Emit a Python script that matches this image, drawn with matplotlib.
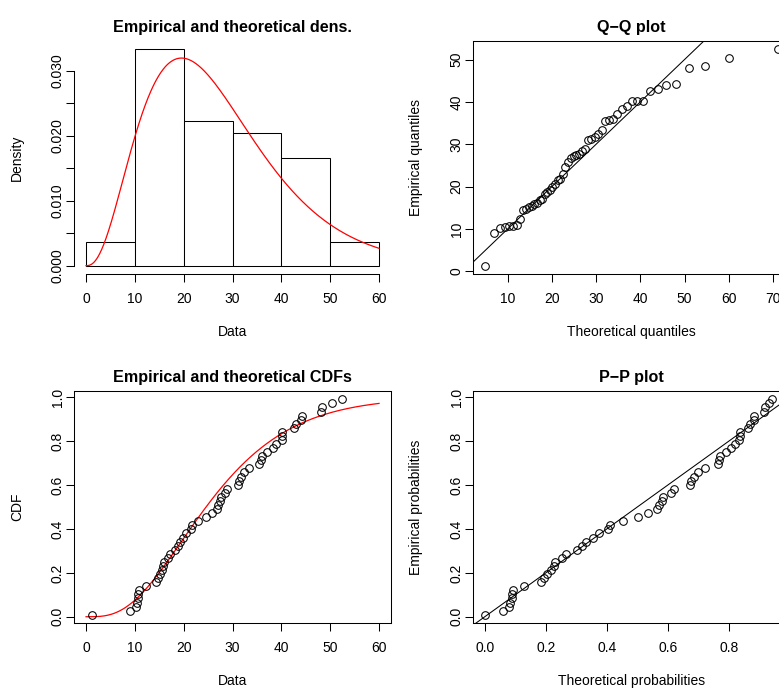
import math
import numpy as np
import matplotlib
matplotlib.use("Agg")
import matplotlib.pyplot as plt

# Daten, n = 54
daten = [1.3, 9.1, 10.2, 10.4, 10.6, 10.7, 10.8, 12.3,
         14.4, 14.7, 15.1, 15.5, 15.8, 16.0, 16.7, 17.1,
         18.3, 18.8, 19.2, 19.9, 20.5, 21.5, 21.7, 23.0,
         24.6, 25.8, 26.8, 27.1, 27.4, 27.6, 28.5, 28.9,
         31.1, 31.3, 31.7, 32.3, 33.3, 35.5, 35.8, 36.0,
         37.1, 38.2, 39.0, 40.1, 40.2, 40.2, 42.5, 43.0,
         44.1, 44.3, 48.1, 48.4, 50.4, 52.4]
klassen = [0, 10, 20, 30, 40, 50, 60]
# angepasste Gamma-Verteilung
shape = 3.62
rate = 0.134

plt.rcParams["font.family"] = ["Liberation Sans", "DejaVu Sans"]
plt.rcParams["font.size"] = 10

x = np.sort(np.array(daten))
n = len(x)
pp = (np.arange(1, n + 1) - 0.5) / n


def dgamma(t):
    t = np.asarray(t, dtype=float)
    out = np.zeros_like(t)
    m = t > 0
    out[m] = np.exp((shape - 1) * np.log(t[m]) - rate * t[m]
                    + shape * math.log(rate) - math.lgamma(shape))
    return out


grid = np.linspace(0, 300, 60001)
dg = dgamma(grid)
cg = np.concatenate([[0.0], np.cumsum((dg[1:] + dg[:-1]) / 2 * np.diff(grid))])


def pgamma(t):
    return np.interp(t, grid, cg)


def qgamma(p):
    return np.interp(p, cg, grid)


def ext(lo, hi):
    d = (hi - lo) * 0.04
    return lo - d, hi + d


def stil(ax):
    ax.tick_params(direction="out", length=6, width=0.75, labelsize=10)
    ax.tick_params(axis="x", pad=7)
    ax.tick_params(axis="y", labelrotation=90, pad=1)
    for lab in ax.get_yticklabels():
        lab.set_va("center")
    for s in ax.spines.values():
        s.set_linewidth(0.75)


kreis = dict(marker="o", ls="none", mfc="none", mec="black", ms=5.5, mew=0.75)

fig = plt.figure(figsize=(7.79, 6.88), dpi=100)
ax1 = fig.add_axes([0.0954, 0.6013, 0.4062, 0.3395])
ax2 = fig.add_axes([0.6076, 0.6013, 0.4062, 0.3395])
ax3 = fig.add_axes([0.0954, 0.0940, 0.4062, 0.3381])
ax4 = fig.add_axes([0.6076, 0.0940, 0.4062, 0.3381])

# Histogramm + Dichte
h, _, _ = ax1.hist(daten, bins=klassen, density=True, facecolor="white",
                   edgecolor="black", linewidth=0.75)
t = np.linspace(0, 60, 600)
ax1.plot(t, dgamma(t), color="red", lw=0.9)
ytop = max(h.max(), dgamma(t).max())
ax1.set_xlim(ext(0, 60))
ax1.set_ylim(ext(0, ytop))
ax1.spines["top"].set_visible(False)
ax1.spines["right"].set_visible(False)
ax1.spines["left"].set_bounds(0, 0.03)
ax1.spines["bottom"].set_bounds(0, 60)
ax1.set_xticks(klassen)
ax1.set_yticks([0, 0.005, 0.01, 0.015, 0.02, 0.025, 0.03])
ax1.set_yticklabels(["0.000", "", "0.010", "", "0.020", "", "0.030"])
ax1.set_title("Empirical and theoretical dens.", fontsize=11.6, fontweight="bold")
ax1.set_xlabel("Data", va="center")
ax1.set_ylabel("Density", va="center")
stil(ax1)

# Q-Q
xq = qgamma(pp)
ax2.plot(xq, x, **kreis)
ax2.axline((0, 0), slope=1, color="black", lw=0.75)
ax2.set_xlim(ext(xq.min(), xq.max()))
ax2.set_ylim(ext(x.min(), x.max()))
ax2.set_xticks([10, 20, 30, 40, 50, 60, 70])
ax2.set_yticks([0, 10, 20, 30, 40, 50])
ax2.set_title("Q\u2212Q plot", fontsize=11.6, fontweight="bold")
ax2.set_xlabel("Theoretical quantiles", va="center")
ax2.set_ylabel("Empirical quantiles", va="center")
stil(ax2)

# CDF
ax3.plot(t, pgamma(t), color="red", lw=0.9)
ax3.plot(x, pp, **kreis)
ax3.set_xlim(ext(0, 60))
ax3.set_ylim(ext(pp.min(), pp.max()))
ax3.set_xticks(klassen)
ax3.set_yticks([0, 0.2, 0.4, 0.6, 0.8, 1.0])
ax3.set_yticklabels(["0.0", "0.2", "0.4", "0.6", "0.8", "1.0"])
ax3.set_title("Empirical and theoretical CDFs", fontsize=11.6, fontweight="bold")
ax3.set_xlabel("Data", va="center")
ax3.set_ylabel("CDF", va="center")
stil(ax3)

# P-P
xp = pgamma(x)
ax4.plot(xp, pp, **kreis)
ax4.axline((0, 0), slope=1, color="black", lw=0.75)
ax4.set_xlim(ext(xp.min(), xp.max()))
ax4.set_ylim(ext(pp.min(), pp.max()))
ax4.set_xticks([0, 0.2, 0.4, 0.6, 0.8, 1.0])
ax4.set_xticklabels(["0.0", "0.2", "0.4", "0.6", "0.8", "1.0"])
ax4.set_yticks([0, 0.2, 0.4, 0.6, 0.8, 1.0])
ax4.set_yticklabels(["0.0", "0.2", "0.4", "0.6", "0.8", "1.0"])
ax4.set_title("P\u2212P plot", fontsize=11.6, fontweight="bold")
ax4.set_xlabel("Theoretical probabilities", va="center")
ax4.set_ylabel("Empirical probabilities", va="center")
stil(ax4)

for ax in [ax1, ax2, ax3, ax4]:
    ax.xaxis.set_label_coords(0.5, -0.246)
    ax.yaxis.set_label_coords(-0.18, 0.5)
    ax.title.set_y(1.07)

fig.savefig("out.png", dpi=100)
